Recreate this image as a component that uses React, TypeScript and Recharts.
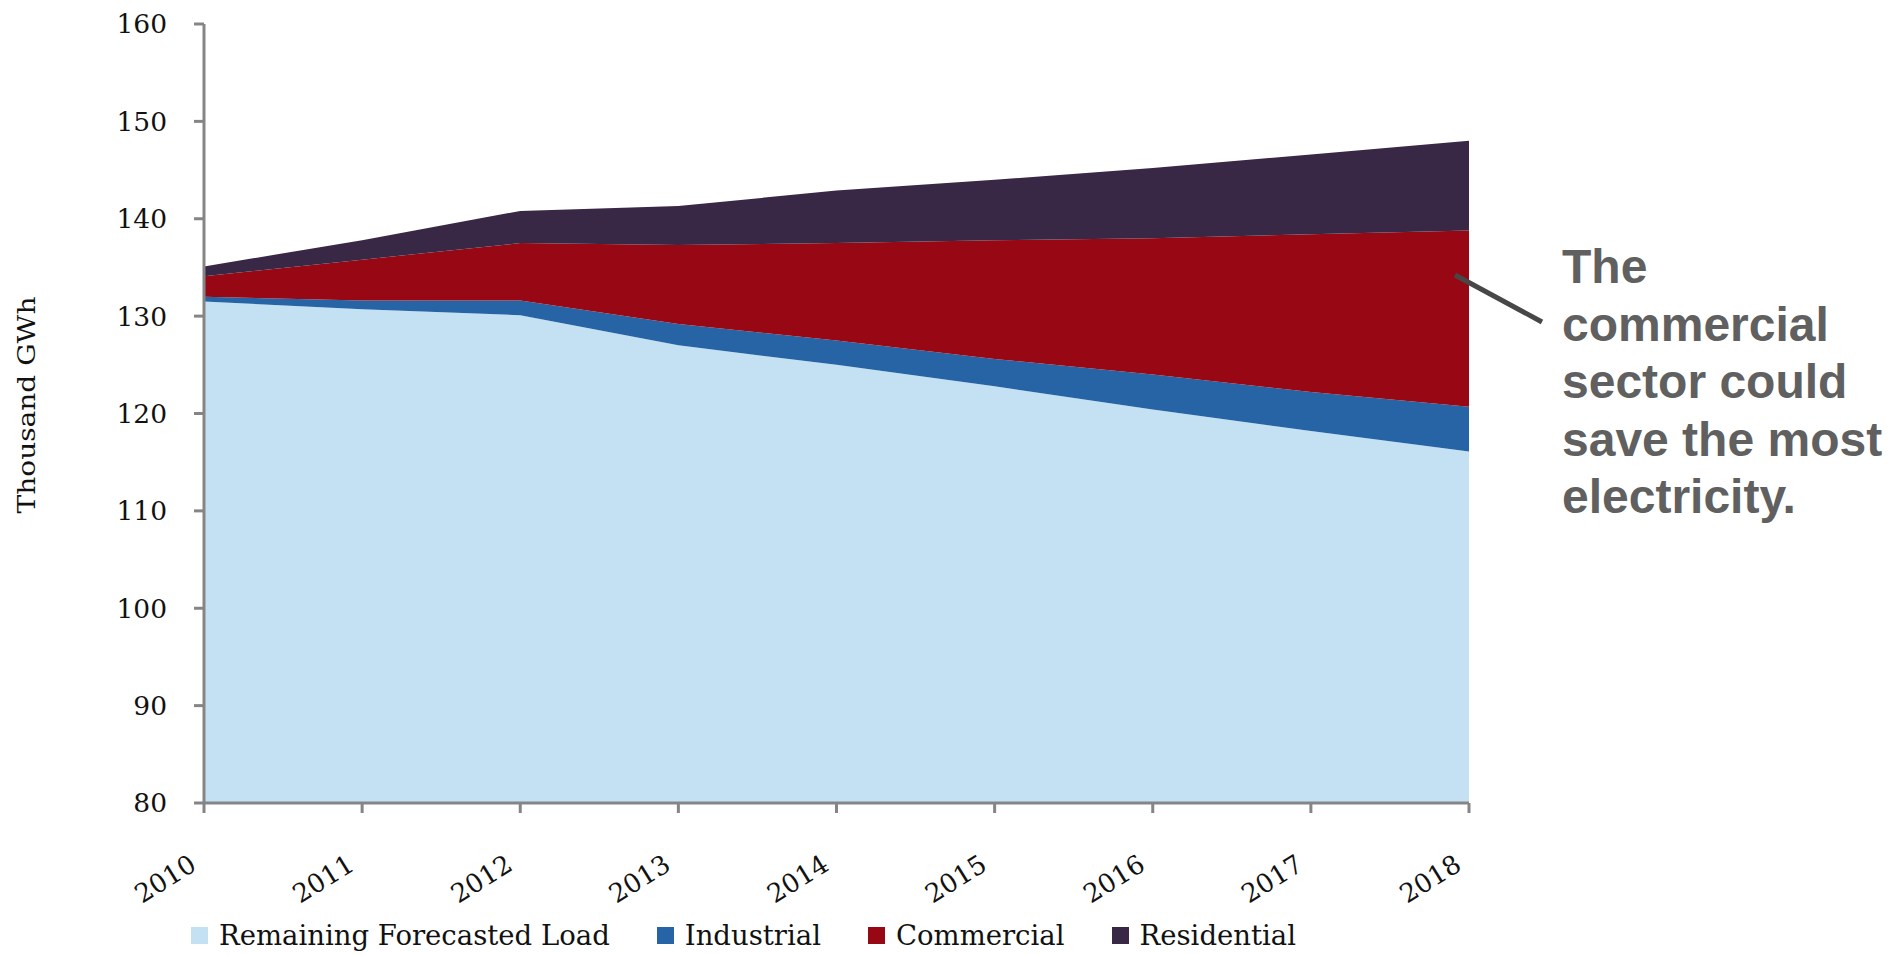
import React from "react";
import { AreaChart, Area, XAxis, YAxis, Legend } from "recharts";

// values, thousand GWh (stacked segments)
const years = ["2010", "2011", "2012", "2013", "2014", "2015", "2016", "2017", "2018"];
const remaining = [131.5, 130.7, 130.1, 127.0, 125.0, 122.8, 120.4, 118.2, 116.1];
const industrial = [0.5, 0.9, 1.5, 2.2, 2.5, 2.8, 3.6, 4.0, 4.6];
const commercial = [2.1, 4.2, 5.9, 8.1, 10.0, 12.2, 14.0, 16.2, 18.1];
const residential = [1.0, 2.0, 3.3, 4.0, 5.4, 6.2, 7.2, 8.2, 9.2];
const yTicks = [80, 90, 100, 110, 120, 130, 140, 150, 160];

const series = [
  { key: "remaining", name: "Remaining Forecasted Load", color: "#C3E1F3" },
  { key: "industrial", name: "Industrial", color: "#2664A5" },
  { key: "commercial", name: "Commercial", color: "#980714" },
  { key: "residential", name: "Residential", color: "#382745" },
];

const note = ["The", "commercial", "sector could", "save the most", "electricity."];

const data = years.map((year, i) => ({
  year,
  remaining: remaining[i],
  industrial: industrial[i],
  commercial: commercial[i],
  residential: residential[i],
}));

const SERIF = "'DejaVu Serif', serif";
const AXIS = "#858585";

const YearTick = (props: any) => {
  const { x, y, payload } = props;
  return (
    <g transform={`translate(${x},${y})`}>
      <text
        transform="translate(-6,54) rotate(-32)"
        textAnchor="end"
        fontFamily={SERIF}
        fontSize={26}
        fill="#111"
      >
        {payload.value}
      </text>
    </g>
  );
};

const renderLegend = () => (
  <div
    style={{
      display: "flex",
      alignItems: "center",
      height: 30,
      lineHeight: "30px",
      fontFamily: SERIF,
      fontSize: 27.5,
      color: "#111",
    }}
  >
    {series.map((s) => (
      <div key={s.key} style={{ display: "flex", alignItems: "center", marginRight: 47 }}>
        <span style={{ width: 17, height: 17, background: s.color, marginRight: 11 }} />
        <span>{s.name}</span>
      </div>
    ))}
  </div>
);

export default function App() {
  return (
    <div style={{ position: "absolute", left: 0, top: 0, width: 1894, height: 956, background: "#fff" }}>
      <AreaChart
        width={1894}
        height={956}
        data={data}
        margin={{ top: 24, right: 425, bottom: 6, left: 4 }}
      >
        <XAxis
          dataKey="year"
          interval={0}
          height={117}
          axisLine={{ stroke: AXIS, strokeWidth: 3 }}
          tickLine={{ stroke: AXIS, strokeWidth: 3 }}
          tickSize={10}
          tick={<YearTick />}
        />
        <YAxis
          width={200}
          domain={[80, 160]}
          ticks={yTicks}
          interval={0}
          allowDataOverflow
          axisLine={{ stroke: AXIS, strokeWidth: 3 }}
          tickLine={{ stroke: AXIS, strokeWidth: 3 }}
          tickSize={10}
          tickMargin={27}
          tick={{ fontFamily: SERIF, fontSize: 26.5, fill: "#111" }}
        />
        {series.map((s) => (
          <Area
            key={s.key}
            type="linear"
            dataKey={s.key}
            name={s.name}
            stackId="load"
            stroke="none"
            fill={s.color}
            fillOpacity={1}
            isAnimationActive={false}
          />
        ))}
        <Legend
          verticalAlign="bottom"
          content={renderLegend}
          wrapperStyle={{ left: 191, width: 1300, height: 30 }}
        />
      </AreaChart>
      <svg
        width={1894}
        height={956}
        style={{ position: "absolute", left: 0, top: 0, pointerEvents: "none" }}
      >
        <text
          x={0}
          y={0}
          transform="translate(35,405) rotate(-90)"
          textAnchor="middle"
          fontFamily={SERIF}
          fontSize={25}
          textLength={217}
          lengthAdjust="spacingAndGlyphs"
          fill="#111"
        >
          Thousand GWh
        </text>
        <line x1={1455} y1={275} x2={1542} y2={322} stroke="#474747" strokeWidth={5} />
        {note.map((line, i) => (
          <text
            key={line}
            x={1562}
            y={283 + i * 57.5}
            fontFamily="'Liberation Sans', Arial, sans-serif"
            fontWeight="bold"
            fontSize={48}
            fill="#606060"
          >
            {line}
          </text>
        ))}
      </svg>
    </div>
  );
}
